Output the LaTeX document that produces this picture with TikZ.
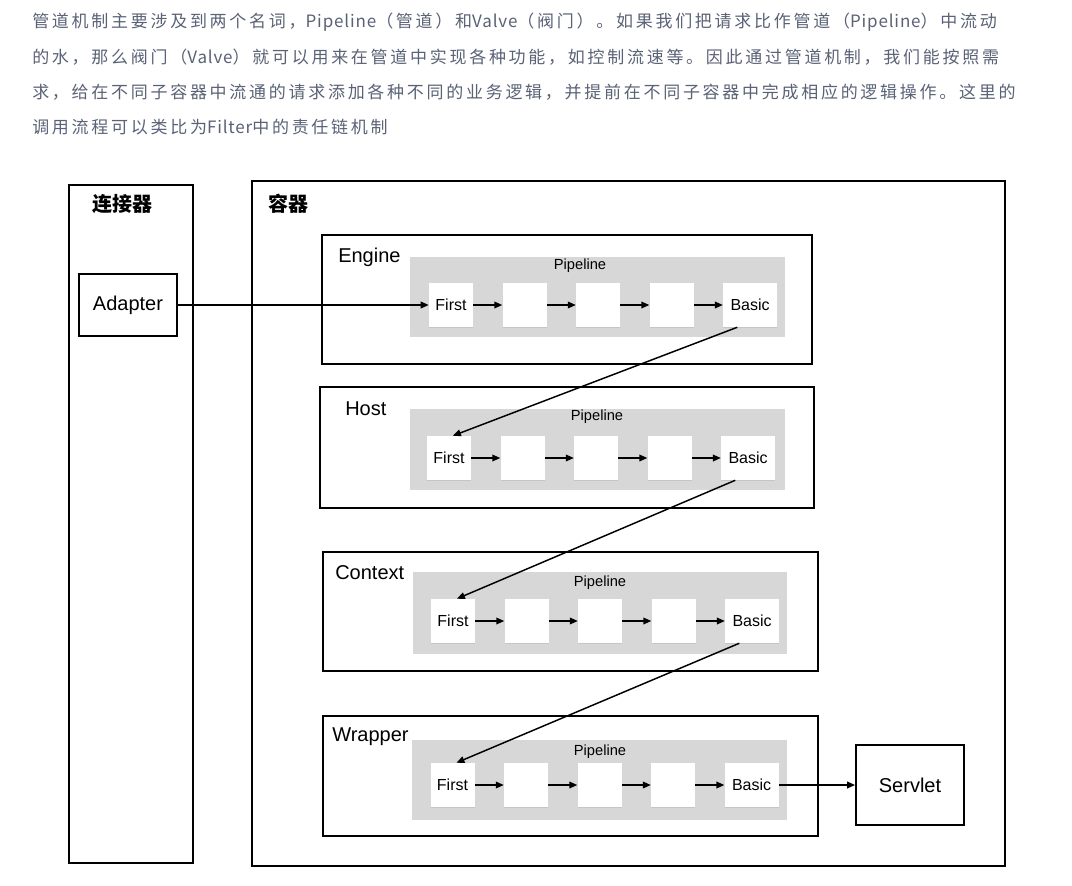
\documentclass[tikz,border=0pt]{standalone}
\usepackage{fontspec}
\setmainfont{Liberation Sans}
\newfontfamily\cjk{Noto Sans CJK SC}
\newfontfamily\notefont[LetterSpace=16]{Noto Sans CJK SC}
\newfontfamily\notelatin[LetterSpace=5]{Noto Sans CJK SC}
\usetikzlibrary{arrows.meta,positioning,shadows}
\definecolor{notegray}{RGB}{90,98,118}
\definecolor{pipegray}{RGB}{215,215,215}

\begin{document}
\begin{tikzpicture}[x=0.75pt,y=-0.75pt,
  note/.style={anchor=west,inner sep=0pt,text=notegray,font=\notefont\fontsize{12.75}{15}\selectfont},
  box/.style={draw,line width=1.3pt,inner sep=0pt},
  title/.style={anchor=west,inner sep=0pt,font=\fontsize{15}{18}\selectfont},
  pipe/.style={fill=pipegray,inner sep=0pt,
    drop shadow={opacity=0.3,shadow xshift=0pt,shadow yshift=-1.5pt}},
  pipelabel/.style={inner sep=0pt,font=\fontsize{11}{13}\selectfont},
  valve/.style={fill=white,inner sep=0pt,minimum width=33pt,minimum height=33pt,
    font=\fontsize{12}{14}\selectfont,
    drop shadow={opacity=0.2,shadow xshift=0pt,shadow yshift=-1pt}},
  basic/.style={valve,minimum width=40.5pt},
  flow/.style={-{Triangle[length=6pt,width=5pt]},line width=1.1pt},
  node distance=21.75pt]

  \fill[white] (0,0) rectangle (1072,886);
  \useasboundingbox (0,0) rectangle (1072,886);

  % text above the diagram
  \node[note] (line1) at (32,22) {管道机制主要涉及到两个名词，{\notelatin Pipeline}（管道）和{\notelatin Valve}（阀门）。如果我们把请求比作管道（{\notelatin Pipeline}）中流动};
  \node[note] (line2) at (32,57) {的水，那么阀门（{\notelatin Valve}）就可以用来在管道中实现各种功能，如控制流速等。因此通过管道机制，我们能按照需};
  \node[note] (line3) at (32,92) {求，给在不同子容器中流通的请求添加各种不同的业务逻辑，并提前在不同子容器中完成相应的逻辑操作。这里的};
  \node[note] (line4) at (32,127) {调用流程可以类比为{\notelatin Filter}中的责任链机制};

  % connector side
  \node[box,minimum width=93pt,minimum height=508.5pt] (connector) at (131,524) {};
  \node[title] (connector-label) at (92,204) {\cjk\bfseries 连接器};
  \node[box,minimum width=73.5pt,minimum height=46.5pt,font=\fontsize{15}{18}\selectfont] (adapter) at (128,305) {Adapter};

  % container side
  \node[box,minimum width=564.75pt,minimum height=513.75pt] (container) at (628.5,523.5) {};
  \node[title] (container-label) at (268,204) {\cjk\bfseries 容器};

  % Engine
  \node[box,minimum width=367.5pt,minimum height=96.75pt] (engine) at (567,299.5) {};
  \node[pipe,minimum width=281.25pt,minimum height=58.5pt] (engine-pipe) at (597.5,296) {};
  \node[title] (engine-label) at (338,257) {Engine};
  \node[pipelabel] (engine-pl) at (580,266) {Pipeline};
  \node[valve] (engine-first) at (451,305) {First};
  \node[valve,right=of engine-first] (engine-v2) {};
  \node[valve,right=of engine-v2] (engine-v3) {};
  \node[valve,right=of engine-v3] (engine-v4) {};
  \node[basic,right=of engine-v4] (engine-basic) {Basic};

  % Host
  \node[box,minimum width=370.5pt,minimum height=90.75pt] (host) at (567,447.5) {};
  \node[pipe,minimum width=281.25pt,minimum height=59.25pt] (host-pipe) at (597.5,448.5) {};
  \node[title] (host-label) at (345,409) {Host};
  \node[pipelabel] (host-pl) at (597,417) {Pipeline};
  \node[valve] (host-first) at (449,458) {First};
  \node[valve,right=of host-first] (host-v2) {};
  \node[valve,right=of host-v2] (host-v3) {};
  \node[valve,right=of host-v3] (host-v4) {};
  \node[basic,right=of host-v4] (host-basic) {Basic};

  % Context
  \node[box,minimum width=371.25pt,minimum height=89.25pt] (context) at (570.5,611.5) {};
  \node[pipe,minimum width=280.5pt,minimum height=60pt] (context-pipe) at (600,612) {};
  \node[title] (context-label) at (335,573) {Context};
  \node[pipelabel] (context-pl) at (600,583) {Pipeline};
  \node[valve] (context-first) at (453,621) {First};
  \node[valve,right=of context-first] (context-v2) {};
  \node[valve,right=of context-v2] (context-v3) {};
  \node[valve,right=of context-v3] (context-v4) {};
  \node[basic,right=of context-v4] (context-basic) {Basic};

  % Wrapper
  \node[box,minimum width=371.25pt,minimum height=90pt] (wrapper) at (570.5,776) {};
  \node[pipe,minimum width=281.25pt,minimum height=58.5pt] (wrapper-pipe) at (599.5,779) {};
  \node[title] (wrapper-label) at (332,737) {Wrapper};
  \node[pipelabel] (wrapper-pl) at (600,752) {Pipeline};
  \node[valve] (wrapper-first) at (452.5,785) {First};
  \node[valve,right=of wrapper-first] (wrapper-v2) {};
  \node[valve,right=of wrapper-v2] (wrapper-v3) {};
  \node[valve,right=of wrapper-v3] (wrapper-v4) {};
  \node[basic,right=of wrapper-v4] (wrapper-basic) {Basic};

  \node[box,minimum width=81pt,minimum height=60pt,font=\fontsize{15}{18}\selectfont] (servlet) at (910,785) {Servlet};

  % valve chains
  \draw[flow] (engine-first) -- (engine-v2);
  \draw[flow] (engine-v2) -- (engine-v3);
  \draw[flow] (engine-v3) -- (engine-v4);
  \draw[flow] (engine-v4) -- (engine-basic);
  \draw[flow] (host-first) -- (host-v2);
  \draw[flow] (host-v2) -- (host-v3);
  \draw[flow] (host-v3) -- (host-v4);
  \draw[flow] (host-v4) -- (host-basic);
  \draw[flow] (context-first) -- (context-v2);
  \draw[flow] (context-v2) -- (context-v3);
  \draw[flow] (context-v3) -- (context-v4);
  \draw[flow] (context-v4) -- (context-basic);
  \draw[flow] (wrapper-first) -- (wrapper-v2);
  \draw[flow] (wrapper-v2) -- (wrapper-v3);
  \draw[flow] (wrapper-v3) -- (wrapper-v4);
  \draw[flow] (wrapper-v4) -- (wrapper-basic);

  % between containers
  \draw[flow] (adapter.east) -- (engine-first.west);
  \draw[flow] (engine-basic.240) -- (host-first.80);
  \draw[flow] (host-basic.240) -- (context-first.80);
  \draw[flow] (context-basic.240) -- (wrapper-first.80);
  \draw[flow] (wrapper-basic) -- (servlet);
\end{tikzpicture}
\end{document}
